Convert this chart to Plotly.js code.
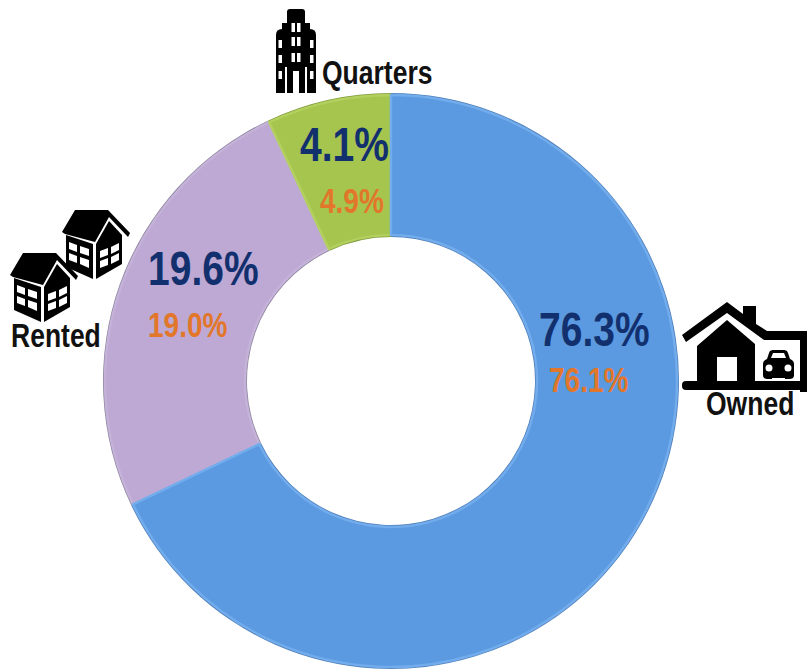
<!DOCTYPE html>
<html><head><meta charset="utf-8">
<script src="https://cdn.plot.ly/plotly-3.0.1.min.js"></script>
<style>html,body{margin:0;padding:0;background:#fff}#c{width:807px;height:671px}</style>
</head><body><div id="c"></div>
<script>
const categories = ['Rented', 'Quarters', 'Owned'];
const sliceShares = [25.1, 7.0, 67.9];
const navyValues = [19.6, 4.1, 76.3];
const orangeValues = [19.0, 4.9, 76.1];
const sliceColors = ['#BDA9D3', '#A5C54E', '#5B9AE0'];
const bevelColors = ['#C4B2D8', '#B3D05E', '#72ACEC'];
const rimColors = ['#8F86A0', '#7F9A3C', '#4F7FB8'];

const W = 807, H = 671;
const cx = 391, cy = 381, R = 288, Rin = 144, inset = 2;
const px = v => v / W, py = v => 1 - v / H;
const dom = r => ({x: [px(cx - r), px(cx + r)], y: [py(cy + r), py(cy - r)]});
const startAngle = 360 * sliceShares[2] / 100;
const pieBase = {type: 'pie', labels: categories, values: sliceShares, sort: false,
  direction: 'clockwise', rotation: startAngle, textinfo: 'none', hoverinfo: 'skip', showlegend: false};

const rimTrace = Object.assign({}, pieBase, {hole: Rin / R, domain: dom(R),
  marker: {colors: rimColors, line: {color: 'rgba(255,255,255,0)', width: 0}}});
const inner = R - inset;
const mainTrace = Object.assign({}, pieBase, {hole: (Rin + inset) / inner, domain: dom(inner),
  marker: {colors: sliceColors, line: {color: bevelColors, width: 2.5}}});

const navy = '#12306E', orange = '#E2762A', labelFont = '"Liberation Sans", Arial, sans-serif';
const navyPos = [[203, 268], [344, 145], [594, 329]];
const orangePos = [[187, 325], [352, 201], [588, 380]];
const catPos = [[56, 336], [377, 73], [750, 404]];
const note = (text, p, size, color) => ({text, x: px(p[0]), y: py(p[1]), xref: 'paper', yref: 'paper',
  xanchor: 'center', yanchor: 'middle', showarrow: false,
  font: {family: labelFont, size, color}});
const annotations = [];
categories.forEach((c, i) => {
  annotations.push(note('<b>' + navyValues[i].toFixed(1) + '%</b>', navyPos[i], 39, navy));
  annotations.push(note('<b>' + orangeValues[i].toFixed(1) + '%</b>', orangePos[i], 28, orange));
  annotations.push(note('<b>' + c + '</b>', catPos[i], 26.5, '#111'));
});

const svg = (vw, vh, body) => 'data:image/svg+xml;base64,' + btoa(
  `<svg xmlns="http://www.w3.org/2000/svg" viewBox="0 0 ${vw} ${vh}" width="${vw}" height="${vh}">${body}</svg>`);

const houseBody = `
<path d="M0 22 L13 0 L46 0 L68 23 L66 27 L47 7 L33 32 L3 24 Z" fill="#000"/>
<path d="M4 25 L31 34 L31 69 L4 57 Z" fill="#000"/>
<path d="M34 34 L47 11 L60 25 L60 54 L34 69 Z" fill="#000"/>
<g fill="#fff">
<path d="M7 32 L15 35 L15 42 L7 39Z M18 36 L27 39 L27 46 L18 43Z M7 43 L15 46 L15 53 L7 50Z M18 47 L27 50 L27 58 L18 54Z"/>
<path d="M38 41 L46 38 L46 45 L38 48Z M49 37 L57 33 L57 40 L49 44Z M38 51 L46 48 L46 55 L38 58Z M49 47 L57 43 L57 50 L49 54Z"/>
</g>`;
const houseIcon = svg(68, 70, houseBody);

const ownedIcon = svg(126, 90, `
<path d="M1 33 L46 0 L62 12 L62 4 L75 4 L75 22 L86 29 L126 29 L126 90 L119 90 L119 38 L83 38 L46 11 L5 40 Z" fill="#000"/>
<path d="M16 44 L46 18 L74 42 L74 82 L16 82 Z M36 55 L36 80 L56 80 L56 55 Z" fill="#000" fill-rule="evenodd"/>
<rect x="1" y="79" width="125" height="9" rx="4" fill="#000"/>
<path d="M82 62 C82 59 84 58 86 57 L88 51 C89 48 91 48 93 48 L102 48 C104 48 106 48 107 51 L109 57 C111 58 113 59 113 62 L113 73 C113 76 111 77 108 77 L87 77 C84 77 82 76 82 73 Z" fill="#000"/>
<path d="M90 56 L92 51 L103 51 L105 56 Z" fill="#fff"/>
<circle cx="88" cy="66" r="3.5" fill="#fff"/><circle cx="107" cy="66" r="3.5" fill="#fff"/>
<rect x="91" y="76" width="13" height="3" fill="#fff"/>`);

const bld = [];
[[3.5,31],[3.5,46],[3.5,62],[35,31],[35,46],[35,62]].forEach(p => bld.push(`<rect x="${p[0]}" y="${p[1]}" width="3.5" height="8" fill="#fff"/>`));
[[16.5,14],[22,14],[16.5,28],[22,28],[16.5,44],[22,44]].forEach(p => bld.push(`<rect x="${p[0]}" y="${p[1]}" width="3.5" height="9" fill="#fff"/>`));
const buildingIcon = svg(42, 84, `
<path d="M12 3 Q12 0 15 0 L27 0 Q30 0 30 3 L30 14 L35 14 L35 20 Q41 20 41 26 L41 84 L1 84 L1 26 Q1 20 7 20 L7 14 L12 14 Z" fill="#000"/>
<rect x="10" y="58" width="2" height="26" fill="#fff"/><rect x="30" y="58" width="2" height="26" fill="#fff"/>
<rect x="18" y="62" width="6" height="22" fill="#fff"/>
${bld.join('')}`);

const img = (source, x0, y0, w, h) => ({source, xref: 'paper', yref: 'paper',
  x: px(x0), y: py(y0), sizex: w / W, sizey: h / H, xanchor: 'left', yanchor: 'top',
  sizing: 'stretch', layer: 'above'});
const images = [
  img(houseIcon, 62, 210, 68, 70),
  img(houseIcon, 10, 253, 68, 70),
  img(ownedIcon, 681, 302, 126, 90),
  img(buildingIcon, 275, 9, 42, 84)
];

Plotly.newPlot('c', [rimTrace, mainTrace], {
  width: W, height: H, margin: {l: 0, r: 0, t: 0, b: 0},
  paper_bgcolor: '#fff', plot_bgcolor: '#fff', showlegend: false,
  annotations, images
}, {displayModeBar: false, staticPlot: true}).then(() => {
  // The reference lettering is condensed: stretch each label upright about its own middle.
  document.querySelectorAll('.annotation-text').forEach(t => {
    const b = t.getBBox(), m = b.y + b.height / 2;
    t.setAttribute('transform', `translate(0 ${m}) scale(1 1.22) translate(0 ${-m})`);
  });
});
</script></body></html>
